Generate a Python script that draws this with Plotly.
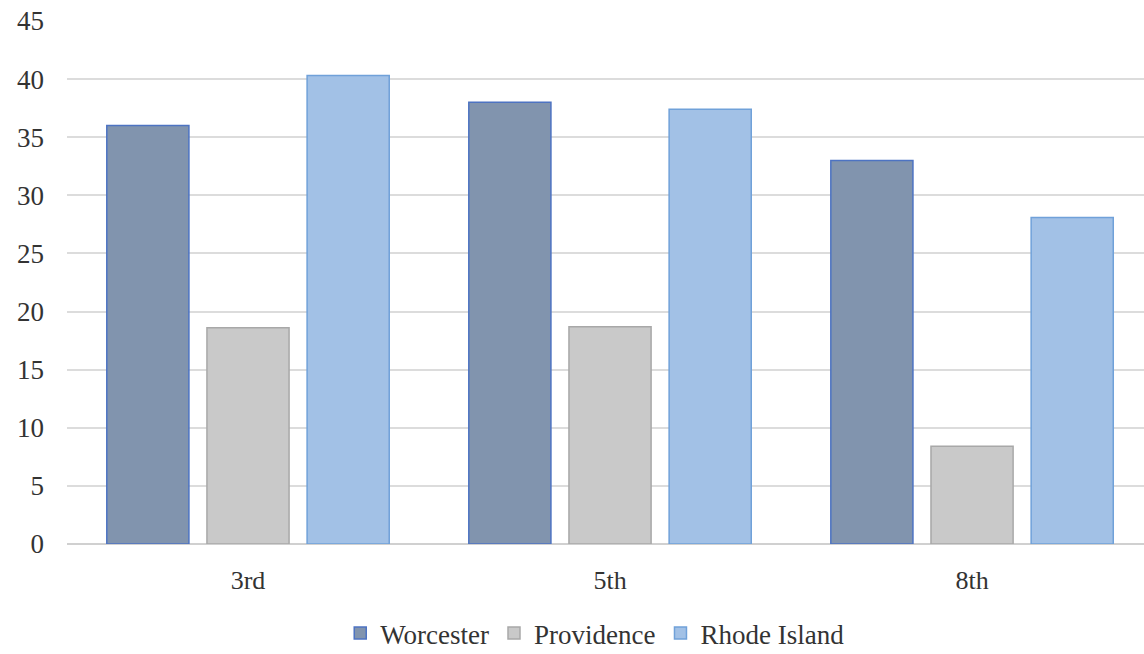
import plotly.graph_objects as go

grades = ["3rd", "5th", "8th"]
worcester = [36.0, 38.0, 33.0]
providence = [18.6, 18.7, 8.4]
rhode_island = [40.3, 37.4, 28.1]

FONT = "'Liberation Serif', 'DejaVu Serif', serif"

fig = go.Figure()
fig.add_trace(go.Bar(
    name="Worcester", x=grades, y=worcester,
    marker=dict(color="#8194AE", line=dict(color="#4D73C2", width=1.5)),
))
fig.add_trace(go.Bar(
    name="Providence", x=grades, y=providence,
    marker=dict(color="#C9C9C9", line=dict(color="#A8A8A8", width=1.5)),
))
fig.add_trace(go.Bar(
    name="Rhode Island", x=grades, y=rhode_island,
    marker=dict(color="#A2C1E6", line=dict(color="#70A1D9", width=1.5)),
))

fig.update_layout(
    width=1144, height=654,
    margin=dict(l=67, r=0, t=21, b=110, autoexpand=False),
    paper_bgcolor="white", plot_bgcolor="white",
    barmode="group", bargap=0.17, bargroupgap=0.18,
    font=dict(family=FONT, size=20, color="#333333"),
    showlegend=True,
    legend=dict(
        orientation="h", x=0.49, xanchor="center",
        y=-0.218, yanchor="bottom",
        font=dict(family=FONT, size=27, color="#333333"),
        itemwidth=30, traceorder="normal",
    ),
    xaxis=dict(
        range=[-0.5, 2.475], showgrid=False, zeroline=False,
        showline=False, ticks="", ticklabelstandoff=18, automargin=False,
        tickfont=dict(family=FONT, size=26, color="#333333"),
    ),
    yaxis=dict(
        range=[0, 45], tickvals=list(range(0, 46, 5)),
        showgrid=True, gridcolor="#DCDCDC", gridwidth=2,
        zeroline=True, zerolinecolor="#D0D0D0", zerolinewidth=2,
        showline=False, ticks="", ticklabelstandoff=22, automargin=False,
        tickfont=dict(family=FONT, size=27, color="#333333"),
    ),
)

fig.write_html("out.html")
